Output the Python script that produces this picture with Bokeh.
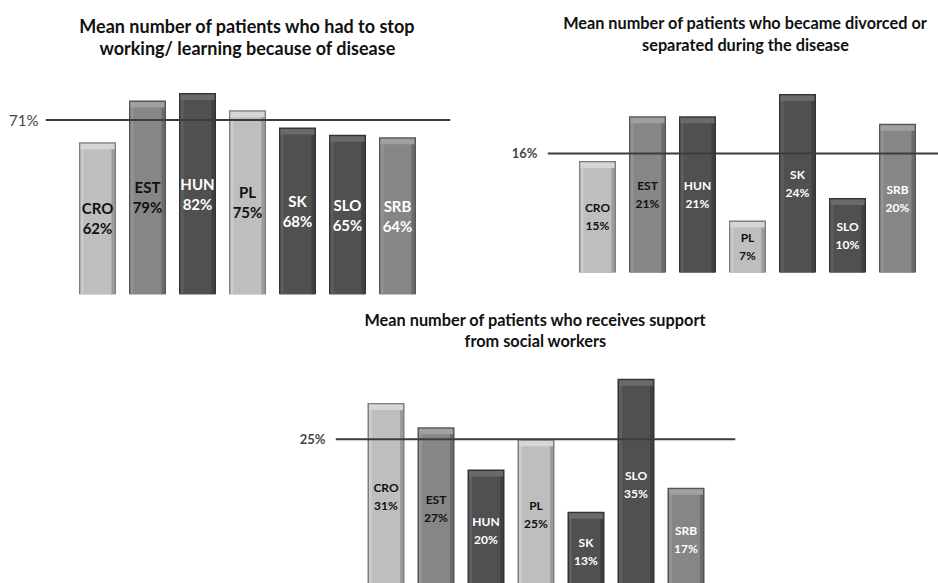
from bokeh.plotting import figure
from bokeh.layouts import column, row
from bokeh.models import Spacer, Span, FixedTicker, Label, ColumnDataSource, Range1d
from bokeh.core.properties import value
from bokeh.embed import file_html
from bokeh.resources import INLINE

# ---------------- data ----------------
countries = ["CRO", "EST", "HUN", "PL", "SK", "SLO", "SRB"]
stop_working = [62, 79, 82, 75, 68, 65, 64]
stop_working_mean = 71
divorced = [15, 21, 21, 7, 24, 10, 20]
divorced_mean = 16
social_support = [31, 27, 20, 25, 13, 35, 17]
social_support_mean = 25

titles = [
    ["Mean number of patients who had to stop", "working/ learning because of disease"],
    ["Mean number of patients who became divorced or", "separated during the disease"],
    ["Mean number of patients who receives support", "from social workers"],
]

# ---------------- styles ----------------
FONT = "Lato"
shade = ["light", "mid", "dark", "light", "dark", "dark", "mid"]
fill = {"light": "#bebebe", "mid": "#868686", "dark": "#505050"}
edge = {"light": "#7e7e7e", "mid": "#555555", "dark": "#333333"}
cap = {"light": "#d6d6d6", "mid": "#a0a0a0", "dark": "#6a6a6a"}
txt_col = ["#111111", "#111111", "#ffffff", "#111111", "#ffffff", "#ffffff", "#ffffff"]


def panel(vals, mean, title, width, height, mb, xr, yr, title_size, title_pos,
          lab_size, lab_gap, axis_size, axis_bold, axis_stand, px_per_unit):
    p = figure(width=width, height=height, output_backend="svg",
               toolbar_location=None, x_range=Range1d(*xr), y_range=Range1d(*yr),
               min_border_left=mb[0], min_border_right=mb[1],
               min_border_top=mb[2], min_border_bottom=mb[3])
    # two centred title lines, placed in screen units relative to the frame
    tx, ty1, ty2 = title_pos
    for txt, ty in ((title[0], ty1), (title[1], ty2)):
        p.add_layout(Label(x=tx, y=ty, x_units="screen", y_units="screen",
                           text=txt, text_align="center", text_baseline="middle",
                           text_font=FONT, text_font_style="bold",
                           text_font_size=title_size, text_color="#111111"))
    p.background_fill_color = "white"
    p.border_fill_color = "white"
    p.outline_line_color = None
    p.grid.visible = False
    p.xaxis.visible = False
    ax = p.yaxis[0]
    ax.ticker = FixedTicker(ticks=[mean])
    ax.major_label_overrides = {mean: f"{mean}%"}
    ax.axis_line_color = None
    ax.major_tick_line_color = None
    ax.minor_tick_line_color = None
    ax.major_tick_out = 0
    ax.major_tick_in = 0
    ax.minor_tick_out = 0
    ax.major_label_text_font = FONT
    ax.major_label_text_font_size = axis_size
    ax.major_label_text_font_style = "bold" if axis_bold else "normal"
    ax.major_label_text_color = "#444444"
    ax.major_label_standoff = axis_stand

    xs = list(range(len(countries)))
    w = 0.74
    rim = 1.5 / 50          # bar spacing is 50 px per category
    strip = 3.0 / 50
    cap_top = 1.5 / px_per_unit
    cap_h = 5.5 / px_per_unit
    src = ColumnDataSource(dict(
        x=xs, top=vals, half=[v / 2 for v in vals],
        xl=[x - w / 2 + rim + strip / 2 for x in xs],
        xr=[x + w / 2 - rim - strip / 2 for x in xs],
        fill=[fill[s] for s in shade], edge=[edge[s] for s in shade],
        cap=[cap[s] for s in shade],
        capt=[v - cap_top for v in vals],
        capb=[v - cap_top - cap_h for v in vals],
        name=countries, pct=[f"{v}%" for v in vals], tc=txt_col))
    # outer darker rim
    p.vbar(x="x", top="top", bottom=0, width=w, source=src,
           fill_color="edge", line_color=None)
    # bar body
    p.vbar(x="x", top="capt", bottom=0, width=w - 2 * rim, source=src,
           fill_color="fill", line_color=None)
    # left highlight / right shadow strips
    p.vbar(x="xl", top="capt", bottom=0, width=strip, source=src,
           fill_color="cap", fill_alpha=0.55, line_color=None)
    p.vbar(x="xr", top="capt", bottom=0, width=strip, source=src,
           fill_color="edge", fill_alpha=0.55, line_color=None)
    # lighter top bevel
    p.vbar(x="x", top="capt", bottom="capb", width=w - 2 * rim, source=src,
           fill_color="cap", line_color=None)
    p.text(x="x", y="half", text="name", source=src, text_color="tc",
           text_font=value(FONT), text_font_style="bold",
           text_font_size=lab_size, text_align="center",
           text_baseline="middle", y_offset=-lab_gap / 2)
    p.text(x="x", y="half", text="pct", source=src, text_color="tc",
           text_font=value(FONT), text_font_style="bold",
           text_font_size=lab_size, text_align="center",
           text_baseline="middle", y_offset=lab_gap / 2)
    p.add_layout(Span(location=mean, dimension="width", line_color="#3c3c3c",
                      line_width=2))
    return p


# row 1: frames at y 0..294 (titles live inside the frame, above the bars)
# panel 1: x 0..470 ; frame x 45..450 ; zero at y 294
p1 = panel(stop_working, stop_working_mean, titles[0], 470, 300,
           (45, 20, 0, 6), (-1.04, 7.06), (0, 119.7), "18px", (202, 269, 247),
           "15px", 20, "15px", False, 7, 2.456)
# panel 2: x 470..938 ; frame x 547..938 ; zero at y 272
p2 = panel(divorced, divorced_mean, titles[1], 468, 300,
           (77, 0, 0, 6), (-1.0, 6.82), (-2.96, 36.56), "16.3px", (198, 272, 250),
           "12px", 18, "13px", True, 10, 7.44)
# panel 3: x 290..760, y 300..583 ; frame x 335..735 ; zero at y 590
p3 = panel(social_support, social_support_mean, titles[2], 470, 283,
           (45, 25, 0, 0), (-1.01, 6.99), (1.16, 47.93), "16.3px", (200, 264, 243),
           "12px", 18, "13px", True, 10, 6.05)

layout = column(row(p1, p2, spacing=0),
                row(Spacer(width=290, height=283), p3, spacing=0),
                spacing=0)

open("out.html", "w").write(file_html(layout, INLINE))
